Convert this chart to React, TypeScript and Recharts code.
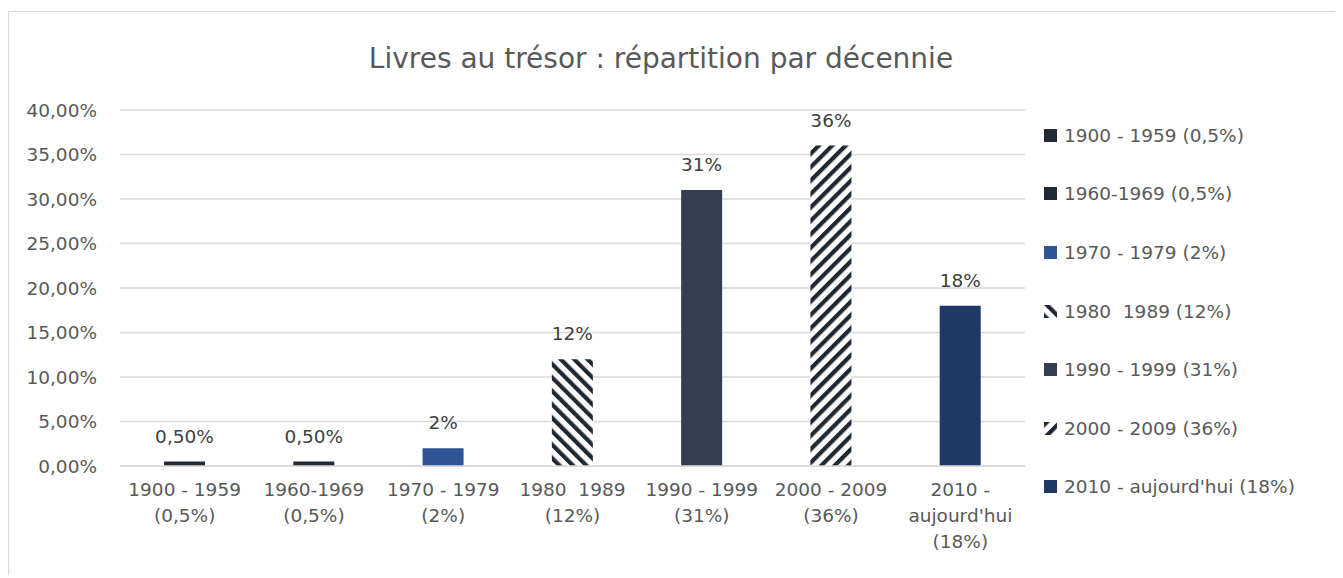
import React from "react";
import { BarChart, Bar, XAxis, YAxis, CartesianGrid, Cell, LabelList, Legend } from "recharts";

// Values (percent of books per decade)
const categories = [
  "1900 - 1959 (0,5%)",
  "1960-1969 (0,5%)",
  "1970 - 1979 (2%)",
  "1980  1989 (12%)",
  "1990 - 1999 (31%)",
  "2000 - 2009 (36%)",
  "2010 - aujourd'hui (18%)",
];
const tickLines = [
  ["1900 - 1959", "(0,5%)"],
  ["1960-1969", "(0,5%)"],
  ["1970 - 1979", "(2%)"],
  ["1980  1989", "(12%)"],
  ["1990 - 1999", "(31%)"],
  ["2000 - 2009", "(36%)"],
  ["2010 -", "aujourd'hui", "(18%)"],
];
const values = [0.5, 0.5, 2, 12, 31, 36, 18];
const valueLabels = ["0,50%", "0,50%", "2%", "12%", "31%", "36%", "18%"];
const yTicks = [0, 5, 10, 15, 20, 25, 30, 35, 40];
const fills = ["#222a35", "#222a35", "#2f5597", "url(#stripeDown)", "#333f50", "url(#stripeUp)", "#203864"];

const FONT = "'DejaVu Sans', sans-serif";
const GREY = "#595959";

const data = categories.map((name, i) => ({
  name,
  idx: i,
  value: values[i],
  label: valueLabels[i],
}));

function StripeDefs({ suffix = "" }: { suffix?: string }) {
  return (
    <defs>
      <pattern id={"stripeDown" + suffix} patternUnits="userSpaceOnUse" width={9.5} height={9.5} patternTransform="rotate(-45)">
        <rect width={9.5} height={9.5} fill="#ffffff" />
        <rect width={4.2} height={9.5} fill="#1f2733" />
      </pattern>
      <pattern id={"stripeUp" + suffix} patternUnits="userSpaceOnUse" width={9.5} height={9.5} patternTransform="rotate(45)">
        <rect width={9.5} height={9.5} fill="#ffffff" />
        <rect width={4.2} height={9.5} fill="#1f2733" />
      </pattern>
    </defs>
  );
}

function XTick(props: any) {
  const { x, y, payload } = props;
  const lines = tickLines[payload.index] || [String(payload.value)];
  return (
    <text x={x} y={y} textAnchor="middle" fill={GREY} fontSize={18.5} fontFamily={FONT}>
      {lines.map((l, i) => (
        <tspan key={i} x={x} y={y + 30 + i * 26} style={{ whiteSpace: "pre" }}>
          {l}
        </tspan>
      ))}
    </text>
  );
}

function LegendBox() {
  return (
    <div style={{ fontFamily: FONT, fontSize: 18.5, color: GREY }}>
      {categories.map((name, i) => (
        <div key={name} style={{ height: 58.6, display: "flex", alignItems: "center" }}>
          <svg width={13} height={13} style={{ marginRight: 7, flexShrink: 0 }}>
            <StripeDefs suffix={"L" + i} />
            <rect
              width={13}
              height={13}
              fill={fills[i].startsWith("url") ? fills[i].replace(")", "L" + i + ")") : fills[i]}
            />
          </svg>
          <span style={{ whiteSpace: "pre" }}>{name}</span>
        </div>
      ))}
    </div>
  );
}

export default function App() {
  return (
    <div
      style={{
        position: "relative",
        top: 3,
        width: 1334,
        height: 566,
        borderTop: "1px solid #d9d9d9",
        borderLeft: "1px solid #d9d9d9",
        fontFamily: FONT,
        background: "#fff",
      }}
    >
      <div
        style={{
          position: "absolute",
          left: 252,
          top: 30,
          width: 800,
          textAlign: "center",
          fontSize: 28,
          lineHeight: "34px",
          color: GREY,
        }}
      >
        Livres au trésor : répartition par décennie
      </div>
      <BarChart
        width={1334}
        height={566}
        data={data}
        margin={{ top: 98, right: 318, bottom: 12, left: 0 }}
        barSize={41}
      >
        <StripeDefs />
        <CartesianGrid vertical={false} stroke="#d9d9d9" strokeWidth={1.5} />
        <XAxis
          dataKey="name"
          height={100}
          interval={0}
          tickLine={false}
          tickSize={0}
          tickMargin={0}
          axisLine={{ stroke: "#d9d9d9", strokeWidth: 1.5 }}
          tick={<XTick />}
        />
        <YAxis
          width={111}
          domain={[0, 40]}
          ticks={yTicks}
          axisLine={false}
          tickLine={false}
          tickSize={6}
          tickMargin={17}
          tickFormatter={(v: number) => `${v},00%`}
          tick={{ fill: GREY, fontSize: 18.5, fontFamily: FONT }}
        />
        <Legend
          layout="vertical"
          align="center"
          verticalAlign="middle"
          wrapperStyle={{ left: 1035, top: 94, width: 300 }}
          content={() => <LegendBox />}
        />
        <Bar dataKey="value" isAnimationActive={false}>
          {data.map((d, i) => (
            <Cell key={d.name} fill={fills[i]} />
          ))}
          <LabelList
            dataKey="label"
            position="top"
            offset={19}
            fill="#404040"
            fontSize={18.5}
            fontFamily={FONT}
          />
        </Bar>
      </BarChart>
    </div>
  );
}
